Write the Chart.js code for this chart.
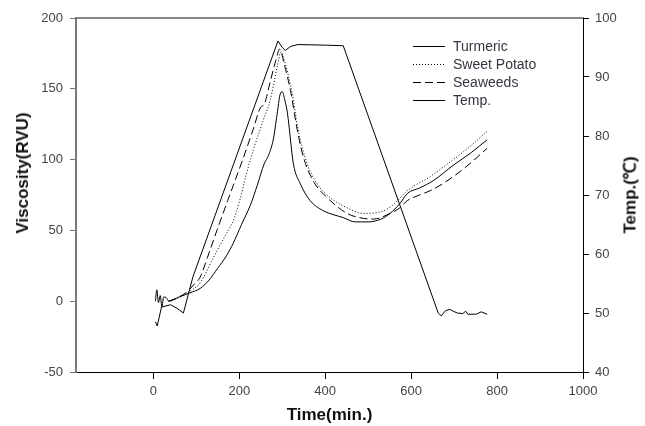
<!DOCTYPE html>
<html>
<head>
<meta charset="utf-8">
<script src="https://cdn.jsdelivr.net/npm/chart.js@4.4.0/dist/chart.umd.min.js"></script>
<style>
  body { margin: 0; background: #fff; }
  #wrap { position: relative; width: 645px; height: 426px; }
  .ytitle {
    position: absolute; white-space: nowrap;
    font: bold 17px "Liberation Sans", Arial, sans-serif; color: #111;
    transform: translate(-50%, -50%) rotate(-90deg);
  }
  #legend { position: absolute; left: 413px; top: 37px; font: 14px "Liberation Sans", Arial, sans-serif; color: #3a3340; }
  #legend div { height: 18px; display: flex; align-items: center; }
  #legend svg { margin-right: 8px; }
</style>
</head>
<body>
<div id="wrap">
  <canvas id="myChart" width="645" height="426"></canvas>
  <div class="ytitle" style="left:23px; top:173px;">Viscosity(RVU)</div>
  <div class="ytitle" style="left:629px; top:195px;">Temp.(℃)</div>
  <div id="legend"></div>
</div>
<script>
// ticks
const xTicks = [0, 200, 400, 600, 800, 1000];
const yTicks = [-50, 0, 50, 100, 150, 200];
const y1Ticks = [40, 50, 60, 70, 80, 90, 100];

// Turmeric viscosity (RVU)
const turmericTime = [5, 8, 12, 16, 20, 24, 30, 36, 60, 86, 109, 130, 149, 170, 186, 205, 226, 242, 258, 268, 279, 288, 295, 300, 306, 312, 326, 342, 365, 395, 442, 470, 500, 530, 551, 574, 591, 620, 651, 698, 740, 777];
const turmericVisc = [0, 8, -1, 4, -4, 3, 2.5, 0, 3, 6, 9, 15, 23, 32, 41, 54, 68, 82, 97, 103, 114, 132, 146, 148, 142, 133, 97, 83, 71, 64, 59, 56, 56, 58, 62, 69, 76, 80, 85, 96, 105, 114];

// Sweet Potato viscosity (RVU)
const potatoTime = [36, 70, 90, 109, 140, 165, 186, 200, 215, 233, 256, 272, 288, 297, 305, 323, 337, 358, 381, 412, 451, 488, 528, 558, 591, 644, 698, 740, 777];
const potatoVisc = [0, 4, 8, 13, 31, 45, 57, 70, 88, 107, 128, 142, 165, 176, 170, 147, 121, 97, 83, 73, 66, 62, 63, 68, 78, 88, 100, 110, 120];

// Seaweeds viscosity (RVU)
const seaweedTime = [36, 60, 80, 95, 109, 126, 148, 173, 208, 232, 250, 258, 272, 285, 294, 305, 319, 335, 349, 372, 405, 451, 480, 512, 551, 574, 591, 620, 651, 698, 740, 777];
const seaweedVisc = [0, 3, 7, 12, 17, 31, 50, 71, 100, 121, 137, 139, 155, 170, 178, 167, 149, 121, 102, 85, 73, 62, 59, 58, 62, 66, 71, 75, 79, 88, 98, 108];

// Temperature (°C)
const tempTime = [5, 9, 19, 40, 55, 70, 92, 290, 300, 307, 320, 337, 400, 442, 663, 670, 680, 690, 707, 720, 727, 732, 752, 763, 777];
const tempVal = [48.5, 47.8, 51.0, 51.4, 50.8, 50.0, 56.1, 96.1, 95.0, 94.5, 95.2, 95.5, 95.4, 95.3, 50.0, 49.5, 50.4, 50.6, 50.0, 49.9, 50.3, 49.8, 49.8, 50.2, 49.8];

function pts(xs, ys) {
    return xs.map(function (x, i) { return { x: x, y: ys[i] }; });
}

const tickFont = { family: '"Liberation Sans", Arial, sans-serif', size: 13 };
const tickColor = '#444';
const plain = function (v) { return String(v); };

const ctx = document.getElementById('myChart').getContext('2d');
const chart = new Chart(ctx, {
    type: 'line',
    data: {
        datasets: [{
            label: 'Turmeric',
            data: pts(turmericTime, turmericVisc),
            borderColor: '#000',
            borderWidth: 1,
            borderDash: [],
            cubicInterpolationMode: 'monotone',
            yAxisID: 'y'
        }, {
            label: 'Sweet Potato',
            data: pts(potatoTime, potatoVisc),
            borderColor: '#000',
            borderWidth: 1,
            borderDash: [1, 2],
            cubicInterpolationMode: 'monotone',
            yAxisID: 'y'
        }, {
            label: 'Seaweeds',
            data: pts(seaweedTime, seaweedVisc),
            borderColor: '#000',
            borderWidth: 1,
            borderDash: [8, 4],
            cubicInterpolationMode: 'monotone',
            yAxisID: 'y'
        }, {
            label: 'Temp.',
            data: pts(tempTime, tempVal),
            borderColor: '#000',
            borderWidth: 1,
            borderDash: [],
            tension: 0,
            yAxisID: 'y1'
        }]
    },
    options: {
        responsive: false,
        animation: false,
        devicePixelRatio: 1,
        elements: { point: { radius: 0 } },
        layout: { padding: 0 },
        plugins: {
            legend: { display: false },
            tooltip: { enabled: false }
        },
        scales: {
            x: {
                type: 'linear',
                position: 'bottom',
                min: -180,
                max: 1000,
                afterBuildTicks: function (s) { s.ticks = xTicks.map(function (v) { return { value: v }; }); },
                afterFit: function (s) { s.height = 54; },
                ticks: { font: tickFont, color: tickColor, padding: 5, maxRotation: 0, callback: plain },
                grid: { drawOnChartArea: false, tickLength: 7, color: '#000' },
                border: { color: '#000', width: 1 },
                title: {
                    display: true,
                    text: 'Time(min.)',
                    color: '#111',
                    font: { family: '"Liberation Sans", Arial, sans-serif', size: 17, weight: 'bold' },
                    padding: { top: 0, bottom: 0 }
                }
            },
            xTop: {
                type: 'linear',
                position: 'top',
                min: -180,
                max: 1000,
                afterFit: function (s) { s.height = 18; },
                ticks: { display: false },
                grid: { drawOnChartArea: false, drawTicks: false },
                border: { color: '#888', width: 2 }
            },
            y: {
                position: 'left',
                min: -50,
                max: 200,
                afterBuildTicks: function (s) { s.ticks = yTicks.map(function (v) { return { value: v }; }); },
                afterFit: function (s) { s.width = 76; },
                ticks: { font: tickFont, color: tickColor, padding: 7, callback: plain },
                grid: { drawOnChartArea: false, tickLength: 6, color: '#777' },
                border: { color: '#777', width: 2 }
            },
            y1: {
                position: 'right',
                min: 40,
                max: 100,
                afterBuildTicks: function (s) { s.ticks = y1Ticks.map(function (v) { return { value: v }; }); },
                afterFit: function (s) { s.width = 62; },
                ticks: { font: tickFont, color: tickColor, padding: 6, callback: plain },
                grid: { drawOnChartArea: false, tickLength: 6, color: '#000' },
                border: { color: '#000', width: 1 }
            }
        }
    }
});

// legend in the plot, built from the datasets
const legendBox = document.getElementById('legend');
chart.data.datasets.forEach(function (ds) {
    const row = document.createElement('div');
    const dash = ds.borderDash.length ? ds.borderDash.join(' ') : 'none';
    row.innerHTML = '<svg width="32" height="5"><line x1="0" y1="2.5" x2="32" y2="2.5" stroke="#000" stroke-width="1" stroke-dasharray="' + dash + '"/></svg><span>' + ds.label + '</span>';
    legendBox.appendChild(row);
});
</script>
</body>
</html>
